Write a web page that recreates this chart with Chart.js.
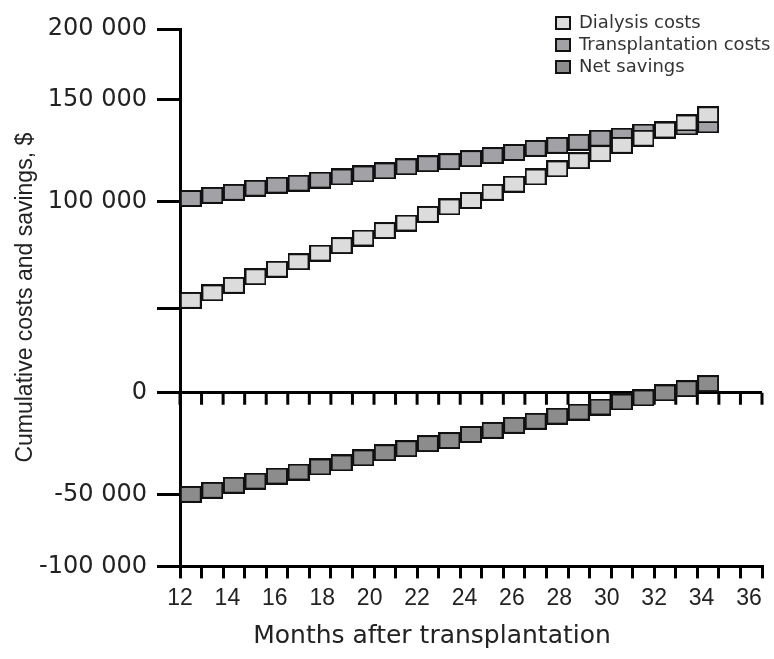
<!DOCTYPE html>
<html>
<head>
<meta charset="utf-8">
<title>Cumulative costs and savings</title>
<script src="https://cdn.jsdelivr.net/npm/chart.js@4.4.1/dist/chart.umd.min.js"></script>
<style>
  html, body { margin: 0; padding: 0; background: #fff; }
  #contenedor { width: 774px; height: 659px; }
</style>
</head>
<body>
<div id="contenedor"><canvas id="grafica"></canvas></div>
<script>
// one square per month after transplantation
const months = [12, 13, 14, 15, 16, 17, 18, 19, 20, 21, 22, 23, 24, 25, 26, 27, 28, 29, 30, 31, 32, 33, 34, 35, 36];
const dialysisCosts = [54000, 57500, 61000, 65000, 68500, 72000, 76000, 79500, 83000, 86500, 90000, 94000, 97500,
        100500, 104500, 108500, 112000, 116000, 120000, 123500, 127500, 131000, 135000, 138500, 142500];
const transplantCosts = [101500, 103000, 104500, 106500, 108000, 109000, 110500, 112000, 113500, 115000, 117000, 118500, 119500,
        121000, 122500, 124000, 126000, 127500, 129000, 131000, 132000, 134000, 135500, 136500, 137500];
const netSavings = [-50000, -48000, -45500, -43500, -41000, -39000, -36500, -34500, -32000, -29500, -27500, -25000, -23500,
        -20500, -18500, -16000, -14000, -11500, -9500, -7000, -4500, -2500, 0, 2500, 5500];

// axis labels
const monthLabels = [12, 14, 16, 18, 20, 22, 24, 26, 28, 30, 32, 34, 36];
const yTickValues = [-100000, -50000, 0, 50000, 100000, 150000, 200000];
const yTickLabels = ['-100 000', '-50 000', '0', '', '100 000', '150 000', '200 000'];

// the printed y axis is not evenly spaced: share of the axis height at each tick
const yTickSpots = [0, 0.134, 0.323, 0.479, 0.679, 0.869, 1];

function valorADecimal(v) {
        const n = yTickValues.length;
        if (v <= yTickValues[0]) return yTickSpots[0] + (v - yTickValues[0]) / (yTickValues[1] - yTickValues[0]) * (yTickSpots[1] - yTickSpots[0]);
        for (let i = 1; i < n; i++) {
                if (v <= yTickValues[i]) {
                        const f = (v - yTickValues[i - 1]) / (yTickValues[i] - yTickValues[i - 1]);
                        return yTickSpots[i - 1] + f * (yTickSpots[i] - yTickSpots[i - 1]);
                }
        }
        return yTickSpots[n - 1] + (v - yTickValues[n - 1]) / (yTickValues[n - 1] - yTickValues[n - 2]) * (yTickSpots[n - 1] - yTickSpots[n - 2]);
}

function decimalAValor(d) {
        for (let i = 1; i < yTickSpots.length; i++) {
                if (d <= yTickSpots[i] || i === yTickSpots.length - 1) {
                        const f = (d - yTickSpots[i - 1]) / (yTickSpots[i] - yTickSpots[i - 1]);
                        return yTickValues[i - 1] + f * (yTickValues[i] - yTickValues[i - 1]);
                }
        }
}

// linear scale bent through the printed tick positions
class EscalaTorcida extends Chart.LinearScale {
        getPixelForValue(value) {
                if (value === null || isNaN(value)) return NaN;
                return this.getPixelForDecimal(valorADecimal(value));
        }
        getValueForPixel(pixel) {
                return decimalAValor(this.getDecimalForPixel(pixel));
        }
}
EscalaTorcida.id = 'torcida';
EscalaTorcida.defaults = Chart.LinearScale.defaults;
Chart.register(EscalaTorcida);

// marker: a grey box with a black edge
function cuadro(color) {
        const c = document.createElement('canvas');
        c.width = 22;
        c.height = 17;
        const g = c.getContext('2d');
        g.fillStyle = color;
        g.fillRect(1, 1, 20, 15);
        g.strokeStyle = '#111';
        g.lineWidth = 2;
        g.strokeRect(1, 1, 20, 15);
        return c;
}

function serie(label, valores, color) {
        return {
                label: label,
                data: months.map((m, i) => ({ x: m + 0.5, y: valores[i] })),
                backgroundColor: color,
                borderColor: '#111',
                borderWidth: 2,
                pointStyle: cuadro(color),
                pointRadius: 10,
                showLine: false,
                xAxisID: 'x',
                yAxisID: 'y'
        };
}

// legend sits inside the plot, top right
const legendaArriba = {
        id: 'legendaArriba',
        afterLayout(chart) {
                const lg = chart.legend;
                lg.left = 552;
                lg.top = 10;
                lg.right = 774;
                lg.bottom = 90;
                lg.width = 222;
                lg.height = 80;
        }
};

// the zero line carries its own tick marks
const lineaCero = {
        id: 'lineaCero',
        beforeDatasetsDraw(chart) {
                const { ctx, scales: { x, y } } = chart;
                const y0 = y.getPixelForValue(0);
                ctx.save();
                ctx.strokeStyle = '#000';
                ctx.lineWidth = 3;
                ctx.beginPath();
                x.ticks.forEach((t, i) => {
                        const px = x.getPixelForTick(i);
                        ctx.moveTo(px, y0);
                        ctx.lineTo(px, y0 + 12);
                });
                ctx.stroke();
                ctx.restore();
        }
};

// x axis caption, printed left of centre
const tituloX = {
        id: 'tituloX',
        afterDraw(chart) {
                const { ctx, chartArea } = chart;
                ctx.save();
                ctx.font = '25px "DejaVu Sans"';
                ctx.fillStyle = '#222';
                ctx.textAlign = 'center';
                ctx.textBaseline = 'middle';
                ctx.fillText('Months after transplantation', chartArea.left + 0.433 * (chartArea.right - chartArea.left), chart.height - 23);
                ctx.restore();
        }
};

new Chart(document.getElementById('grafica').getContext('2d'), {
        type: 'scatter',
        data: {
                datasets: [
                        serie('Dialysis costs', dialysisCosts, '#dcdcdc'),
                        serie('Transplantation costs', transplantCosts, '#a2a2a6'),
                        serie('Net savings', netSavings, '#8c8c8c')
                ]
        },
        options: {
                responsive: true,
                maintainAspectRatio: false,
                animation: false,
                devicePixelRatio: 1,
                layout: { padding: { left: 8, top: 29, right: 12, bottom: 41 } },
                plugins: {
                        tooltip: { enabled: false },
                        legend: {
                                position: 'chartArea',
                                align: 'start',
                                labels: {
                                        boxWidth: 14,
                                        boxHeight: 12,
                                        padding: 4,
                                        color: '#333',
                                        font: { family: 'DejaVu Sans', size: 18 }
                                }
                        }
                },
                scales: {
                        x: {
                                type: 'linear',
                                position: 'bottom',
                                weight: 0,
                                min: 12,
                                max: 39,
                                afterBuildTicks: (axis) => {
                                        const t = [];
                                        for (let v = 12; v <= 39; v++) t.push({ value: v });
                                        axis.ticks = t;
                                },
                                ticks: { display: false },
                                grid: { drawOnChartArea: false, tickLength: 12, tickWidth: 3, tickColor: '#000', lineWidth: 3 },
                                border: { display: true, color: '#000', width: 3 }
                        },
                        xl: {
                                type: 'linear',
                                position: 'bottom',
                                weight: 1,
                                min: 12,
                                max: 36.55,
                                afterBuildTicks: (axis) => {
                                        axis.ticks = monthLabels.map(v => ({ value: v }));
                                },
                                ticks: {
                                        autoSkip: false,
                                        maxRotation: 0,
                                        padding: 6,
                                        color: '#222',
                                        font: { family: 'Liberation Sans', size: 23 },
                                        callback: (v) => String(v)
                                },
                                grid: { display: false, drawTicks: false },
                                border: { display: false }
                        },
                        y: {
                                type: 'torcida',
                                min: -100000,
                                max: 200000,
                                afterBuildTicks: (axis) => {
                                        axis.ticks = yTickValues.map(v => ({ value: v }));
                                },
                                afterFit: (axis) => {
                                        axis.width = 172;
                                },
                                ticks: {
                                        autoSkip: false,
                                        padding: 10,
                                        color: '#222',
                                        font: { family: 'DejaVu Sans', size: 24 },
                                        callback: (v, i) => yTickLabels[i]
                                },
                                grid: {
                                        color: (c) => (c.tick && c.tick.value === 0 ? '#000' : 'rgba(0,0,0,0)'),
                                        lineWidth: 3,
                                        tickColor: '#000',
                                        tickLength: 23,
                                        tickWidth: 3
                                },
                                border: { display: true, color: '#000', width: 3 },
                                title: {
                                        display: true,
                                        text: 'Cumulative costs and savings, $',
                                        color: '#222',
                                        font: { family: 'Liberation Sans', size: 23 },
                                        padding: { top: 4, bottom: 4 }
                                }
                        }
                }
        },
        plugins: [legendaArriba, lineaCero, tituloX]
});
</script>
</body>
</html>
